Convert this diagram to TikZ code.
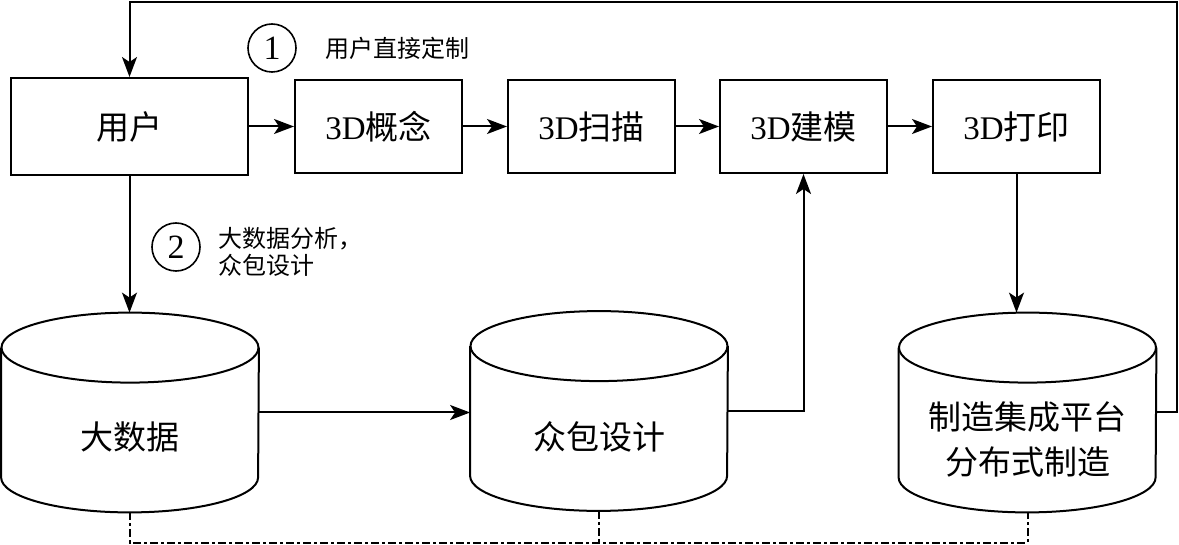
\documentclass[tikz,border=0pt]{standalone}
\usepackage{fontspec}
\setmainfont{Liberation Serif}
\newfontfamily\cjk{Noto Sans CJK SC}
\usetikzlibrary{arrows.meta,positioning,shapes.geometric,calc}

% outline of a drum round a named node
\newcommand{\drum}[1]{%
  \draw[line width=1pt]
    ([yshift=-17.5pt]#1.north west) -- ([yshift=17.5pt]#1.south west)
    arc[start angle=180, end angle=360, x radius=64.25pt, y radius=17.5pt]
    -- ([yshift=-17.5pt]#1.north east);
  \draw[line width=1pt] ([yshift=-17.5pt]#1.north) ellipse[x radius=64.25pt, y radius=17.5pt];}

\begin{document}
\begin{tikzpicture}[
  x=0.5pt, y=-0.5pt,
  every node/.style={font=\fontsize{16.5}{22.5}\selectfont},
  box/.style={draw, line width=1pt, minimum width=83.5pt, minimum height=46.5pt, inner sep=0pt},
  cyl/.style={minimum width=128.5pt, minimum height=99.5pt, inner sep=0pt},
  arrow/.style={-{Stealth[length=10pt,width=7.5pt,inset=2.5pt]}, line width=1pt},
  dashdot/.style={line width=1pt, dash pattern=on 4pt off 1.5pt on 1.5pt off 1.5pt},
  num/.style={draw, circle, line width=0.8pt, minimum size=24pt, inner sep=0pt,
              font=\fontsize{17}{20}\selectfont},
  note/.style={font=\cjk\fontsize{12}{13.5}\selectfont, anchor=west, align=left, inner sep=0pt}
]
\useasboundingbox (0,0) rectangle (1179,545);

% top row
\node[box, minimum width=118.5pt, minimum height=48.5pt] (user) at (129.5,126.5) {\cjk 用户};
\node[box] (concept) at (378.5,126.5) {3D{\cjk 概念}};
\node[box] (scan) at (591.5,126.5) {3D{\cjk 扫描}};
\node[box] (model) at (803.5,126.5) {3D{\cjk 建模}};
\node[box] (print) at (1016.5,126.5) {3D{\cjk 打印}};

% storage
\node[cyl] (bigdata) at (130,412.5) {};
\node[cyl] (crowd) at (599,411) {};
\node[cyl] (platform) at (1027.5,412.5) {};
\drum{bigdata}
\drum{crowd}
\drum{platform}
\node (bigdatat) at ([yshift=-12.25pt]bigdata.center) {\cjk 大数据};
\node (crowdt) at ([yshift=-13pt]crowd.center) {\cjk 众包设计};
\node[align=center] (platformt) at ([yshift=-13.5pt]platform.center) {\cjk 制造集成平台\\\cjk 分布式制造};

% routes
\node[num] (n1) at (272,48) {1};
\node[note] (n1t) at (325,48) {用户直接定制};
\node[num] (n2) at (176,247) {2};
\node[note] (n2t) at (218,251.5) {大数据分析，\\众包设计};

\draw[arrow] (user) -- (concept);
\draw[arrow] (concept) -- (scan);
\draw[arrow] (scan) -- (model);
\draw[arrow] (model) -- (print);
\draw[arrow] (user.south) -- (user.south |- bigdata.north);
\draw[arrow] (print.south) -- (print.south |- platform.north);
\draw[arrow] (bigdata.east) -- (crowd.west |- bigdata.east);
\draw[arrow] (crowd.east) -| (model.south);

\coordinate (topright) at (1177,2);
\draw[arrow] (platform.east) -| (topright) -| (user.north);

\coordinate (botline) at (0,543);
\draw[dashdot] (bigdata.south) -- (bigdata.south |- botline) -- (platform.south |- botline) -- (platform.south);
\draw[dashdot] (crowd.south) -- (crowd.south |- botline);
\end{tikzpicture}
\end{document}
